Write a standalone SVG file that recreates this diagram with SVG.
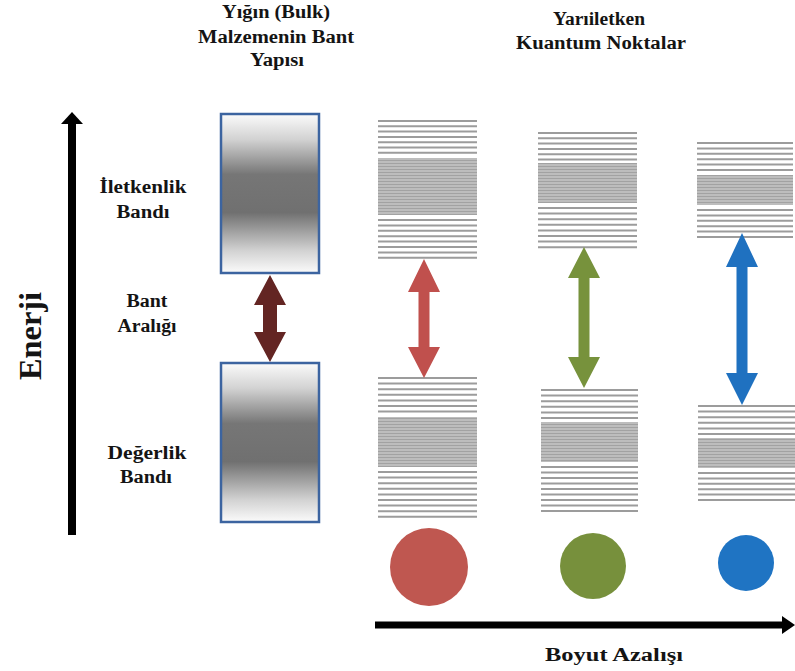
<svg xmlns="http://www.w3.org/2000/svg" width="795" height="671" viewBox="0 0 795 671">
<style>
  .t{font-family:"Liberation Serif","Times New Roman",serif;font-weight:bold;font-size:18px;fill:#141414;text-anchor:middle}
  .sp{stroke:#9c9c9c;stroke-width:2;fill:none}
  .bulk{fill:url(#g);stroke:#3c64a0;stroke-width:2.5}
</style>
<defs>
  <linearGradient id="g" x1="0" y1="0" x2="0" y2="1">
    <stop offset="0" stop-color="#fbfbfb"/>
    <stop offset="0.16" stop-color="#d2d2d2"/>
    <stop offset="0.38" stop-color="#767676"/>
    <stop offset="0.62" stop-color="#707070"/>
    <stop offset="0.86" stop-color="#d2d2d2"/>
    <stop offset="1" stop-color="#fbfbfb"/>
  </linearGradient>
  <pattern id="dp" width="4" height="3" patternUnits="userSpaceOnUse">
    <rect width="4" height="3" fill="#bdbdbd"/>
    <rect y="1" width="4" height="1" fill="#a2a2a2"/>
  </pattern>
</defs>
<rect width="795" height="671" fill="#ffffff"/>

<g id="titles">
  <text class="t" x="276" y="18" textLength="108" lengthAdjust="spacingAndGlyphs">Yığın (Bulk)</text>
  <text class="t" x="276" y="43" textLength="156" lengthAdjust="spacingAndGlyphs">Malzemenin Bant</text>
  <text class="t" x="277" y="66" textLength="54" lengthAdjust="spacingAndGlyphs">Yapısı</text>
  <text class="t" x="599" y="25" textLength="92" lengthAdjust="spacingAndGlyphs">Yarıiletken</text>
  <text class="t" x="601" y="49" textLength="170" lengthAdjust="spacingAndGlyphs">Kuantum Noktalar</text>
</g>

<g id="labels">
  <text class="t" x="143" y="193" textLength="87" lengthAdjust="spacingAndGlyphs">İletkenlik</text>
  <text class="t" x="143" y="218" textLength="53" lengthAdjust="spacingAndGlyphs">Bandı</text>
  <text class="t" x="147" y="307" textLength="41" lengthAdjust="spacingAndGlyphs">Bant</text>
  <text class="t" x="147" y="332" textLength="59" lengthAdjust="spacingAndGlyphs">Aralığı</text>
  <text class="t" x="147" y="459" textLength="79" lengthAdjust="spacingAndGlyphs">Değerlik</text>
  <text class="t" x="146" y="483" textLength="52" lengthAdjust="spacingAndGlyphs">Bandı</text>
  <text class="t" x="614" y="661" textLength="138" lengthAdjust="spacingAndGlyphs">Boyut Azalışı</text>
  <text class="t" style="font-size:31px" transform="translate(41,336) rotate(-90)" textLength="88" lengthAdjust="spacingAndGlyphs">Enerji</text>
</g>

<g id="axes">
  <line x1="72" y1="535" x2="72" y2="121" stroke="#000" stroke-width="8"/>
  <polygon points="72,112 83,124 61,124" fill="#000"/>
  <line x1="375" y1="625" x2="785" y2="625" stroke="#000" stroke-width="7"/>
  <polygon points="795,625 782,616 782,634" fill="#000"/>
</g>

<g id="bulk-conduction">
  <rect class="bulk" x="221" y="114" width="98" height="159"/>
</g>
<g id="bulk-valence">
  <rect class="bulk" x="221" y="363" width="98" height="159"/>
</g>

<g id="qd1-conduction">
  <path class="sp" d="M378 121H477M378 126.3H477M378 131.6H477M378 136.9H477M378 142.2H477M378 147.5H477M378 152.8H477M378 220H477M378 225.4H477M378 230.8H477M378 236.2H477M378 241.6H477M378 247H477M378 252.4H477M378 257.8H477"/>
  <rect x="378" y="158" width="99" height="57" fill="url(#dp)"/>
</g>
<g id="qd1-valence">
  <path class="sp" d="M378 378H477M378 383.6H477M378 389.2H477M378 394.8H477M378 400.4H477M378 406H477M378 411.6H477M378 472H477M378 477.6H477M378 483.2H477M378 488.8H477M378 494.4H477M378 500H477M378 505.6H477M378 511.2H477M378 516.8H477"/>
  <rect x="378" y="417" width="99" height="50" fill="url(#dp)"/>
</g>
<g id="qd2-conduction">
  <path class="sp" d="M538 133H637M538 138.3H637M538 143.6H637M538 148.9H637M538 154.2H637M538 159.5H637M538 208H637M538 213.6H637M538 219.2H637M538 224.8H637M538 230.4H637M538 236H637M538 241.6H637M538 247.2H637"/>
  <rect x="538" y="163" width="99" height="40" fill="url(#dp)"/>
</g>
<g id="qd2-valence">
  <path class="sp" d="M541 390H638M541 395.6H638M541 401.2H638M541 406.8H638M541 412.4H638M541 418H638M541 467H638M541 472.5H638M541 478H638M541 483.5H638M541 489H638M541 494.5H638M541 500H638M541 505.5H638M541 511H638"/>
  <rect x="541" y="422" width="97" height="40" fill="url(#dp)"/>
</g>
<g id="qd3-conduction">
  <path class="sp" d="M697 143H793M697 148.4H793M697 153.8H793M697 159.2H793M697 164.6H793M697 170H793M697 210H793M697 215.4H793M697 220.8H793M697 226.2H793M697 231.6H793M697 237H793"/>
  <rect x="697" y="175" width="96" height="30" fill="url(#dp)"/>
</g>
<g id="qd3-valence">
  <path class="sp" d="M698 406H795M698 411.6H795M698 417.2H795M698 422.8H795M698 428.4H795M698 434H795M698 473H795M698 478.4H795M698 483.8H795M698 489.2H795M698 494.6H795M698 500H795"/>
  <rect x="698" y="438" width="97" height="30" fill="url(#dp)"/>
</g>

<g id="connectors">
  <polygon fill="#632523" points="270,275 286,305 277,305 277,332 286,332 270,362 254,332 263,332 263,305 254,305"/>
  <polygon fill="#c0504d" points="424,259 440,292 429.5,292 429.5,347 440,347 424,378 408,347 418.5,347 418.5,292 408,292"/>
  <polygon fill="#77923c" points="584,247 600,278 589.5,278 589.5,357 600,357 584,388 568,357 578.5,357 578.5,278 568,278"/>
  <polygon fill="#1f71c0" points="742,233 758,267 747.5,267 747.5,373 758,373 742,405 726,373 736.5,373 736.5,267 726,267"/>
</g>

<g id="dot-red"><circle cx="429" cy="567" r="39" fill="#bf5750"/></g>
<g id="dot-green"><circle cx="593" cy="566" r="33" fill="#77903c"/></g>
<g id="dot-blue"><circle cx="746" cy="563" r="28" fill="#1f74c3"/></g>
</svg>
